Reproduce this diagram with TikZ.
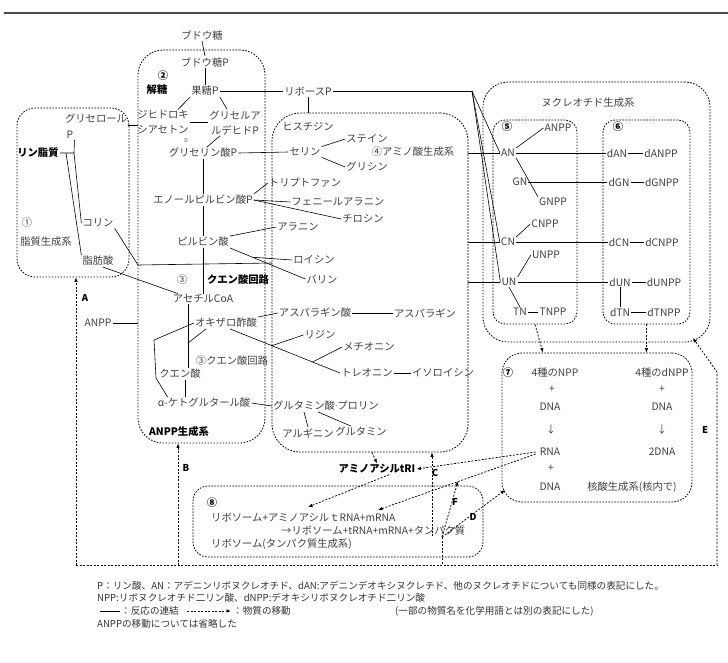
\documentclass[tikz,border=0pt]{standalone}
\usepackage{fontspec}
\setmainfont{Noto Sans CJK JP}
\setsansfont{Noto Sans CJK JP}
\usetikzlibrary{arrows.meta,calc}

\tikzset{
  lbl/.style={inner sep=1pt, text=black!75, font=\fontsize{10.3}{12}\selectfont},
  bld/.style={inner sep=1pt, text=black, font=\fontsize{10.3}{12}\selectfont\bfseries},
  two/.style={lbl, align=center, font=\fontsize{10.3}{15}\selectfont},
  note/.style={inner sep=0pt, anchor=west, text=black!80, font=\fontsize{9.6}{11}\selectfont},
  tag/.style={inner sep=1pt, font=\fontsize{9.5}{11}\selectfont\bfseries},
  sysbox/.style={draw, dash pattern=on 1.6pt off 1.4pt, line width=0.8pt, rounded corners=#1, inner sep=0pt},
  sysbox/.default=20pt,
  rx/.style={line width=0.6pt},
  mvline/.style={dash pattern=on 2pt off 1.5pt, line width=0.75pt},
  mv/.style={mvline, -{Latex[length=4.5pt,width=3.5pt]}}
}

\begin{document}
\begin{tikzpicture}[x=1pt,y=-1pt]
\useasboundingbox (0,0) rectangle (728,662);
\draw[line width=1.2pt,black!70] (4,13) -- (728,13);

% systems
\node[sysbox=18pt, minimum width=112pt, minimum height=169pt] (box1) at (73,192.5) {};
\node[sysbox=25pt, minimum width=127pt, minimum height=393pt] (box2) at (201.5,246.5) {};
\node[sysbox=28pt, minimum width=196pt, minimum height=339pt] (box4) at (370,282.5) {};
\node[sysbox=25pt, minimum width=227pt, minimum height=260pt] (boxN) at (596.5,212) {};
\node[sysbox=12pt, minimum width=84pt, minimum height=204pt] (box5) at (535,222) {};
\node[sysbox=12pt, minimum width=87pt, minimum height=204pt] (box6) at (646.5,222) {};
\node[sysbox=20pt, minimum width=190pt, minimum height=149pt] (box7) at (597,427.5) {};
\node[sysbox=15pt, minimum width=290pt, minimum height=71pt] (box8) at (338,521.5) {};

% (1) lipids
\node[lbl] (glycerol) at (96,119) {グリセロール};
\node[lbl] (P) at (70,135) {P};
\node[bld] (pl) at (38,153) {リン脂質};
\node[lbl] (n1) at (27,223) {①};
\node[lbl] (lipsys) at (46,242) {脂質生成系};
\node[lbl] (cho) at (98,223) {コリン};
\node[lbl] (fa) at (98,261) {脂肪酸};
\node[lbl] (anpp) at (98,323) {ANPP};
\coordinate (plj1) at (66,153);
\coordinate (plj2) at (74,153);
\draw[rx] (pl.east) -- (plj2) -- (P.south east);
\draw[rx] (plj1) -- (fa.north west);
\draw[rx] (plj2) -- (cho.west);
\draw[rx] (glycerol.south east) -- (box2.west |- glycerol.south east);
\draw[rx] (anpp.east) -- (box2.west |- anpp.east);

% (2) glycolysis
\node[lbl] (glc) at (202,35) {ブドウ糖};
\node[lbl] (glcp) at (205,62) {ブドウ糖P};
\node[bld] (n2) at (163,76) {②};
\node[bld] (glyco) at (157,90) {解糖};
\node[lbl] (frup) at (205,91) {果糖P};
\node[lbl] (ribp) at (308,91) {リボースP};
\node[two] (dhap) at (163,122.5) {ジヒドロキ\\シアセトン};
\node[two] (gap) at (235,122.5) {グリセルア\\ルデヒドP};
\node[lbl, font=\fontsize{5}{6}\selectfont] (dmark) at (186,141) {D};
\node[lbl] (glyp) at (203,153) {グリセリン酸P};
\node[lbl] (pep) at (203,200) {エノールピルビン酸P};
\node[lbl] (pyr) at (203,242) {ピルビン酸};
\node[lbl] (n3) at (182,280) {③};
\node[bld] (tca) at (238,280) {クエン酸回路};
\node[lbl] (acoa) at (203,299) {アセチルCoA};
\node[lbl] (oaa) at (226,323) {オキザロ酢酸};
\node[lbl] (tca2) at (232,361) {③クエン酸回路};
\node[lbl] (cit) at (180,374) {クエン酸};
\node[lbl] (akg) at (204,403) {α-ケトグルタール酸};
\node[bld] (anppsys) at (179,432) {ANPP生成系};
\draw[rx] (glc.south) -- (glcp.north);
\draw[rx] (glcp.south) -- (frup.north);
\draw[rx] (frup.east) -- (ribp.west);
\draw[rx] (frup.south west) -- ([xshift=-12pt]dhap.north east);
\draw[rx] (frup.south east) -- ([xshift=-8pt]gap.north);
\draw[rx] (dhap.east) -- (gap.west);
\draw[rx] ([xshift=-15pt]gap.south) -- ([xshift=4pt]glyp.north);
\draw[rx] (glyp.south) -- (pep.north);
\draw[rx] (pep.south) -- (pyr.north);
\draw[rx] (pyr.south) -- (acoa.north);
\coordinate (cbr1) at (138,265);
\coordinate (cbr2) at (272,263);
\draw[rx] (cho.south east) -- (cbr1) -- (cbr2);
\draw[rx] ([xshift=-12pt]fa.south east) -- ([xshift=6pt]acoa.north west);
\coordinate (cmeet) at (188,343);
\draw[rx] ([xshift=-15pt]acoa.south) -- ([xshift=-15pt]acoa.south |- cit.north);
\draw[rx] ([xshift=-20pt]oaa.south) -- (cmeet);
\coordinate (cl1) at (154,340);
\coordinate (cl2) at (156,378);
\draw[rx] (oaa.west) -- (cl1) -- (cl2) -- ([xshift=11pt]akg.north west);
\draw[rx] ([xshift=5pt]cit.south) -- ([xshift=5pt]cit.south |- akg.north);

% (4) amino acids
\node[lbl] (his) at (308,127) {ヒスチジン};
\node[lbl] (ser) at (305,152) {セリン};
\node[lbl] (cys) at (367,139) {ステイン};
\node[lbl] (gly) at (367,167) {グリシン};
\node[lbl] (n4) at (413,152) {④アミノ酸生成系};
\node[lbl] (trp) at (305,183) {トリプトファン};
\node[lbl] (phe) at (338,202) {フェニールアラニン};
\node[lbl] (tyr) at (363,219) {チロシン};
\node[lbl] (ala) at (298,227) {アラニン};
\node[lbl] (leu) at (314,260) {ロイシン};
\node[lbl] (val) at (322,279) {バリン};
\node[lbl] (asp) at (315,313) {アスパラギン酸};
\node[lbl] (asn) at (425,313) {アスパラギン};
\node[lbl] (lys) at (320,335) {リジン};
\node[lbl] (met) at (369,347) {メチオニン};
\node[lbl] (thr) at (367,373) {トレオニン};
\node[lbl] (ile) at (443,373) {イソロイシン};
\node[lbl] (glu) at (304,406) {グルタミン酸};
\node[lbl] (pro) at (358,405) {プロリン};
\node[lbl] (arg) at (308,433) {アルギニン};
\node[lbl] (gln) at (361,432) {グルタミン};
\draw[rx] (ribp.south) -- (ribp.south |- box4.north);
\draw[rx] (glyp.east) -- (ser.west);
\draw[rx] (ser.north east) -- (cys.west);
\draw[rx] (ser.south east) -- (gly.west);
\draw[rx] (pep.north east) -- (trp.west);
\draw[rx] (pep.east) -- (phe.west);
\draw[rx] (pep.east) -- (tyr.west);
\draw[rx] (pyr.north east) -- (ala.west);
\draw[rx] (pyr.south east) -- (val.west);
\draw[rx] ($(pyr.south east)!0.3!(val.west)$) -- (leu.west);
\draw[rx] (oaa.north east) -- (asp.west);
\draw[rx] (asp.east) -- (asn.west);
\draw[rx] ([xshift=4pt]oaa.south) -- (thr.west);
\draw[rx] ($([xshift=4pt]oaa.south)!0.38!(thr.west)$) -- (lys.west);
\draw[rx] ($([xshift=4pt]oaa.south)!0.75!(thr.west)$) -- (met.west);
\draw[rx] (thr.east) -- (ile.west);
\draw[rx] (akg.east) -- (glu.west);
\draw[rx] (glu.east) -- (pro.west);
\draw[rx] (glu.south) -- (arg.north);
\draw[rx] ([xshift=14pt]glu.south) -- ([xshift=-10pt]gln.north);

% (5)(6) nucleotides
\node[lbl] (nucsys) at (588,103) {ヌクレオチド生成系};
\node[bld] (n5) at (507,127) {⑤};
\node[lbl] (ANPP) at (558,128) {ANPP};
\node[lbl] (AN) at (508,153) {AN};
\node[lbl] (GN) at (520,182) {GN};
\node[lbl] (GNPP) at (553,202) {GNPP};
\node[lbl] (CNPP) at (545,224) {CNPP};
\node[lbl] (CN) at (508,242) {CN};
\node[lbl] (UNPP) at (546,255) {UNPP};
\node[lbl] (UN) at (509,282) {UN};
\node[lbl] (TN) at (520,312) {TN};
\node[lbl] (TNPP) at (553,312) {TNPP};
\node[bld] (n6) at (618,127) {⑥};
\node[lbl] (dAN) at (617,153) {dAN};
\node[lbl] (dANPP) at (661,153) {dANPP};
\node[lbl] (dGN) at (619,182) {dGN};
\node[lbl] (dGNPP) at (662,182) {dGNPP};
\node[lbl] (dCN) at (619,242) {dCN};
\node[lbl] (dCNPP) at (662,242) {dCNPP};
\node[lbl] (dUN) at (620,282) {dUN};
\node[lbl] (dUNPP) at (664,282) {dUNPP};
\node[lbl] (dTN) at (620,312) {dTN};
\node[lbl] (dTNPP) at (664,312) {dTNPP};
\coordinate (kr) at (472,91);
\draw[rx] (ribp.east) -- (kr);
\draw[rx] (kr) -- (AN.west);
\draw[rx] (kr) -- (CN.west);
\draw[rx] (kr) -- (UN.west);
\draw[rx] (box4.east |- AN.west) -- (AN.west);
\draw[rx] (box4.east |- CN.west) -- (CN.west);
\draw[rx] (box4.east |- UN.west) -- (UN.west);
\draw[rx] (AN.north east) -- (ANPP.west);
\draw[rx] (AN.south east) -- (GNPP.north west);
\draw[rx] (CN.north east) -- (CNPP.west);
\draw[rx] (UN.north east) -- (UNPP.west);
\draw[rx] (UN.south) -- (TN.north);
\draw[rx] (TN.east) -- (TNPP.west);
\draw[rx] (AN.east) -- (dAN.west);
\draw[rx] (GN.east) -- (dGN.west);
\draw[rx] (CN.east) -- (dCN.west);
\draw[rx] (UN.east) -- (dUN.west);
\draw[rx] (dAN.east) -- (dANPP.west);
\draw[rx] (dGN.east) -- (dGNPP.west);
\draw[rx] (dCN.east) -- (dCNPP.west);
\draw[rx] (dUN.east) -- (dUNPP.west);
\draw[rx] (dTN.east) -- (dTNPP.west);
\draw[rx] (dUN.south) -- (dTN.north);

% (7) nucleic acids
\node[bld] (n7) at (508,373) {⑦};
\node[lbl] (npp4) at (555,373) {4種のNPP};
\node[lbl] (pl1) at (552,389) {+};
\node[lbl] (dna1) at (550,407) {DNA};
\node[lbl] (ar1) at (551,430) {↓};
\node[lbl] (rna) at (550,452) {RNA};
\node[lbl] (pl2) at (551,468) {+};
\node[lbl] (dna2) at (550,487) {DNA};
\node[lbl] (dnpp4) at (662,373) {4種のdNPP};
\node[lbl] (pl3) at (662,389) {+};
\node[lbl] (dna3) at (662,407) {DNA};
\node[lbl] (ar2) at (662,430) {↓};
\node[lbl] (dna4) at (662,452) {2DNA};
\node[lbl] (nasys) at (632,487) {核酸生成系(核内で)};

% (8) ribosome
\node[bld] (n8) at (212,503) {⑧};
\node[lbl, anchor=west] (rib1) at (210,517) {リボソーム+アミノアシルｔRNA+mRNA};
\node[lbl, anchor=west] (rib2) at (280,531) {→リボソーム+tRNA+mRNA+タンパク質};
\node[lbl, anchor=west] (rib3) at (210,544) {リボソーム(タンパク質生成系)};
\node[bld] (aatrna) at (377,469) {アミノアシルtRI};

% movement
\node[tag] (tA) at (85,298) {A};
\node[tag] (tB) at (186,468) {B};
\node[tag] (tC) at (435,473) {C};
\node[tag] (tD) at (473,517) {D};
\node[tag] (tE) at (705,430) {E};
\node[tag] (tF) at (455,502) {F};
\coordinate (kA) at (76,565);
\coordinate (kB) at (178,565);
\coordinate (kE) at (717,565);
\coordinate (kE2) at (717,372);
\coordinate (kE3) at (693,338);
\coordinate (kprot) at (442,537);
\coordinate (kC) at (432,536);
\coordinate (kF) at (458,481);
\coordinate (kD) at (505,490);
\coordinate (kmrna) at (378,510);
\coordinate (kaa) at (308,507);
\draw[mvline] (kA) -- (kE);
\draw[mv] (kA) -- (box1.south -| kA);
\draw[mv] (kB) -- (box2.south -| kB);
\draw[mv] (kE) -- (kE2) -- (kE3);
\draw[mvline] (kprot) -- (kprot |- kA);
\draw[mv] (kprot) -- (kF);
\draw[mv] (kprot) -- (kD);
\draw[mv] (kC) -- (box4.south -| kC);
\draw[mv] (box5.south) -- ([xshift=-54pt]box7.north);
\draw[mv] (box6.south) -- (box6.south |- box7.north);
\draw[mv] ([xshift=-5pt]aatrna.north |- box4.south) -- (aatrna.north);
\draw[mv] ([xshift=-3pt]rna.west) -- (aatrna.east);
\draw[mv] ([xshift=-3pt,yshift=-2pt]rna.west) -- (kmrna);
\draw[mv] ([xshift=12pt]aatrna.south) -- (kaa);

% legend
\node[note] (lg1) at (97,586) {P：リン酸、AN：アデニンリボヌクレオチド、dAN:アデニンデオキシヌクレチド、他のヌクレオチドについても同様の表記にした。};
\node[note] (lg2) at (97,598) {NPP:リボヌクレオチド二リン酸、dNPP:デオキシリボヌクレオチド二リン酸};
\coordinate (lgs1) at (100,611);
\coordinate (lgs2) at (120,611);
\coordinate (lgd1) at (187,611);
\coordinate (lgd2) at (231,611);
\draw[rx] (lgs1) -- (lgs2);
\draw[mv] (lgd1) -- (lgd2);
\node[note] (lg3) at (121,611) {：反応の連結};
\node[note] (lg4) at (233,611) {：物質の移動};
\node[note] (lg5) at (395,611) {(一部の物質名を化学用語とは別の表記にした)};
\node[note] (lg6) at (97,624) {ANPPの移動については省略した};
\end{tikzpicture}
\end{document}
